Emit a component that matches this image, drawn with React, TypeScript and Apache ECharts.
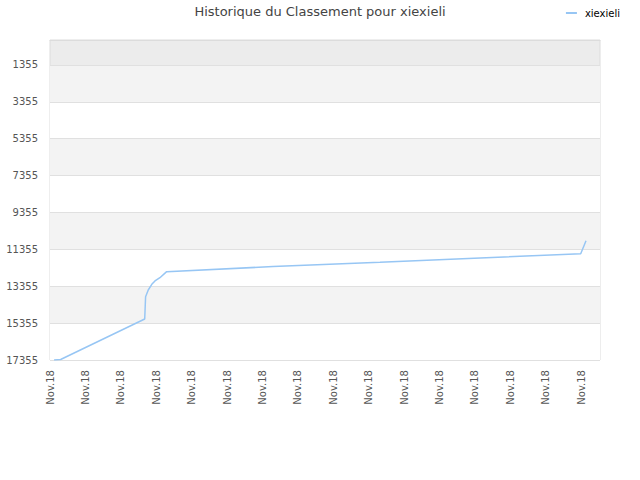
import { useEffect, useRef } from "react";
import * as echarts from "echarts";

// x is in days from the left edge of the axis, y is the rank
const days = [0.23, 0.6, 5.35, 5.4, 5.55, 5.75, 5.93, 6.21, 6.59, 12.6, 18.64, 24.3, 29.98, 30.28];
const ranks = [17355, 17330, 15131, 13921, 13558, 13249, 13070, 12891, 12565, 12287, 12055, 11822, 11589, 10884];
const rankTicks = [1355, 3355, 5355, 7355, 9355, 11355, 13355, 15355, 17355];
const dateLabel = "Nov.18";
const seriesName = "xiexieli";

export default function App() {
  const reference = useRef<HTMLDivElement>(null);
  useEffect(() => {
    const element = reference.current;
    if (element === null) return;
    const chart = echarts.init(element, undefined, { renderer: "svg" });
    chart.setOption({
      animation: false,
      textStyle: { fontFamily: "DejaVu Sans" },
      title: {
        text: `Historique du Classement pour ${seriesName}`,
        left: "center",
        top: 0,
        textStyle: { fontSize: 13, fontWeight: "normal", color: "#444" },
      },
      legend: {
        right: 15,
        top: 3,
        itemWidth: 11,
        itemHeight: 2,
        icon: "rect",
        textStyle: { fontSize: 10, color: "#000", padding: [0, 0, 0, 3] },
        data: [seriesName],
      },
      grid: {
        left: 50,
        right: 40,
        top: 40,
        bottom: 120,
        show: true,
        backgroundColor: "#ececec",
        borderColor: "#dcdcdc",
        borderWidth: 1,
      },
      xAxis: {
        type: "value",
        min: 0,
        max: 31.07,
        interval: 2,
        axisLine: { show: true, lineStyle: { color: "#dcdcdc" } },
        axisTick: { show: false },
        splitLine: { show: false },
        axisLabel: {
          rotate: 90,
          margin: 10,
          fontSize: 10,
          color: "#555",
          showMaxLabel: false,
          formatter: () => dateLabel,
        },
      },
      yAxis: {
        type: "value",
        inverse: true,
        min: 0,
        max: 17355,
        axisLine: { show: false },
        axisTick: { show: false, customValues: rankTicks },
        axisLabel: {
          customValues: rankTicks,
          fontSize: 10,
          color: "#555",
          margin: 12,
          formatter: (value: number) => String(value),
        },
        splitLine: { lineStyle: { color: "#e0e0e0" } },
        splitArea: { show: true, areaStyle: { color: ["#f3f3f3", "#ffffff"] } },
      },
      series: [
        {
          name: seriesName,
          type: "line",
          symbol: "none",
          color: "#97c6f4",
          lineStyle: { width: 1.5, color: "#97c6f4" },
          data: days.map((day, index) => [day, ranks[index]]),
        },
      ],
    });
    return () => chart.dispose();
  }, []);
  return (
    <div
      ref={reference}
      style={{ position: "absolute", left: 0, top: 0, width: 640, height: 480 }}
    />
  );
}
